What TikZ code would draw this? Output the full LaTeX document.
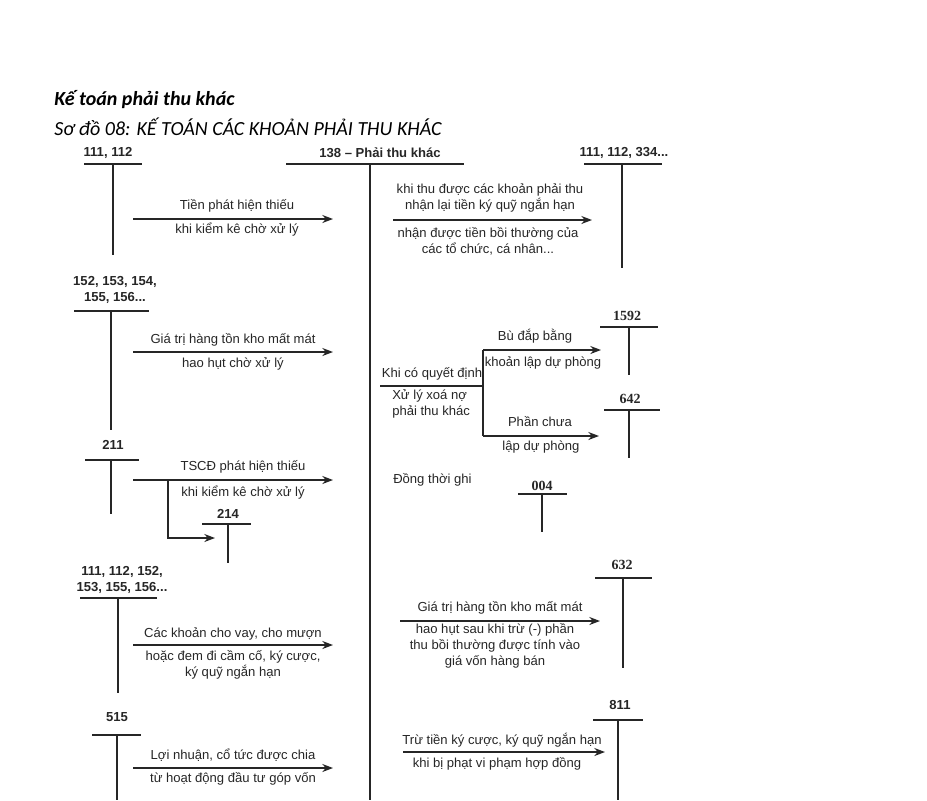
\documentclass[tikz,border=0pt]{standalone}
\usepackage{fontspec}
\setmainfont{Liberation Sans}
\newfontfamily\titlefont{Carlito}
\newfontfamily\numserif{Liberation Serif}
\usetikzlibrary{arrows.meta}
\begin{document}
\begin{tikzpicture}[x=0.75pt,y=-0.75pt,
  tline/.style={line width=1.1pt,black!85},
  flow/.style={line width=1.1pt,black!85,-{Stealth[length=8pt,width=6pt]}},
  lbl/.style={font=\fontsize{9.8}{12}\selectfont,inner sep=0pt,align=center,text=black!85},
  acct/.style={font=\fontsize{9.8}{12}\selectfont\bfseries,inner sep=0pt,align=center,text=black!85},
  sacct/.style={font=\fontsize{10.5}{12}\selectfont\numserif\bfseries,inner sep=0pt,text=black!85}]
\useasboundingbox (0,0) rectangle (927,800);
% titles
\node[anchor=west,inner sep=0pt,font=\fontsize{15}{17}\selectfont\titlefont\bfseries\itshape] (t1) at (54,100) {Kế toán phải thu khác};
\node[anchor=west,inner sep=0pt,font=\fontsize{15}{17}\selectfont\titlefont\itshape] (t2) at (54,127) {Sơ đồ 08: KẾ TOÁN CÁC KHOẢN PHẢI THU KHÁC};

% main account 138
\node[acct] (a138) at (380,153) {138 – Phải thu khác};
\coordinate (h138l) at (286,164); \coordinate (h138r) at (464,164);
\coordinate (v138t) at (370,164); \coordinate (v138b) at (370,800);
\draw[tline] (h138l) -- (h138r);
\draw[tline] (v138t) -- (v138b);

% 111,112
\node[acct] (a111) at (108,153) {111, 112};
\coordinate (h111l) at (84,164); \coordinate (h111r) at (142,164);
\coordinate (v111t) at (113,164); \coordinate (v111b) at (113,255);
\draw[tline] (h111l) -- (h111r); \draw[tline] (v111t) -- (v111b);
\coordinate (f1s) at (133,219); \coordinate (f1e) at (333,219);
\draw[flow] (f1s) -- (f1e);
\node[lbl] (l1a) at (237,206) {Tiền phát hiện thiếu};
\node[lbl] (l1b) at (237,230) {khi kiểm kê chờ xử lý};

% 111,112,334
\node[acct] (a334) at (624,153) {111, 112, 334...};
\coordinate (h334l) at (584,164); \coordinate (h334r) at (662,164);
\coordinate (v334t) at (622,164); \coordinate (v334b) at (622,268);
\draw[tline] (h334l) -- (h334r); \draw[tline] (v334t) -- (v334b);
\coordinate (f2s) at (393,220); \coordinate (f2e) at (592,220);
\draw[flow] (f2s) -- (f2e);
\node[lbl] (l2a) at (490,198) {khi thu được các khoản phải thu\\nhận lại tiền ký quỹ ngắn hạn};
\node[lbl] (l2b) at (488,241) {nhận được tiền bồi thường của\\các tổ chức, cá nhân...};

% 152..156
\node[acct] (a152) at (115,290) {152, 153, 154,\\155, 156...};
\coordinate (h152l) at (74,311); \coordinate (h152r) at (149,311);
\coordinate (v152t) at (111,311); \coordinate (v152b) at (111,430);
\draw[tline] (h152l) -- (h152r); \draw[tline] (v152t) -- (v152b);
\coordinate (f3s) at (133,352); \coordinate (f3e) at (333,352);
\draw[flow] (f3s) -- (f3e);
\node[lbl] (l3a) at (233,340) {Giá trị hàng tồn kho mất mát};
\node[lbl] (l3b) at (233,364) {hao hụt chờ xử lý};

% write-off branch
\node[lbl] (l4a) at (432,374) {Khi có quyết định};
\node[lbl,align=left,anchor=west] (l4b) at (392,404) {Xử lý xoá nợ\\phải thu khác};
\coordinate (b0) at (380,386); \coordinate (b1) at (483,386);
\coordinate (bt) at (483,350); \coordinate (bb) at (483,436);
\coordinate (bte) at (601,350); \coordinate (bbe) at (599,436);
\draw[tline] (b0) -- (b1);
\draw[tline] (bt) -- (bb);
\draw[flow] (bt) -- (bte);
\draw[flow] (bb) -- (bbe);
\node[lbl] (l5a) at (535,336) {Bù đắp bằng};
\node[lbl] (l5b) at (543,363) {khoản lập dự phòng};
\node[lbl] (l6a) at (540,422) {Phần chưa};
\node[lbl] (l6b) at (541,447) {lập dự phòng};

% 1592
\node[sacct] (a1592) at (627,316) {1592};
\coordinate (h1592l) at (600,327); \coordinate (h1592r) at (658,327);
\coordinate (v1592t) at (629,327); \coordinate (v1592b) at (629,375);
\draw[tline] (h1592l) -- (h1592r); \draw[tline] (v1592t) -- (v1592b);
% 642
\node[sacct] (a642) at (630,399) {642};
\coordinate (h642l) at (604,410); \coordinate (h642r) at (660,410);
\coordinate (v642t) at (629,410); \coordinate (v642b) at (629,458);
\draw[tline] (h642l) -- (h642r); \draw[tline] (v642t) -- (v642b);

% 211
\node[acct] (a211) at (113,445) {211};
\coordinate (h211l) at (85,460); \coordinate (h211r) at (139,460);
\coordinate (v211t) at (111,460); \coordinate (v211b) at (111,514);
\draw[tline] (h211l) -- (h211r); \draw[tline] (v211t) -- (v211b);
\coordinate (f7s) at (133,480); \coordinate (f7e) at (333,480);
\draw[flow] (f7s) -- (f7e);
\node[lbl] (l7a) at (243,467) {TSCĐ phát hiện thiếu};
\node[lbl] (l7b) at (243,493) {khi kiểm kê chờ xử lý};
\coordinate (f8s) at (168,480); \coordinate (f8c) at (168,538); \coordinate (f8e) at (215,538);
\draw[flow] (f8s) -- (f8c) -- (f8e);
% 214
\node[acct] (a214) at (228,514) {214};
\coordinate (h214l) at (202,524); \coordinate (h214r) at (251,524);
\coordinate (v214t) at (228,524); \coordinate (v214b) at (228,563);
\draw[tline] (h214l) -- (h214r); \draw[tline] (v214t) -- (v214b);

% 004
\node[lbl,anchor=west] (l9) at (393,480) {Đồng thời ghi};
\node[sacct] (a004) at (542,486) {004};
\coordinate (h004l) at (518,494); \coordinate (h004r) at (567,494);
\coordinate (v004t) at (542,494); \coordinate (v004b) at (542,532);
\draw[tline] (h004l) -- (h004r); \draw[tline] (v004t) -- (v004b);

% 111,112,152,...
\node[acct] (a156) at (122,580) {111, 112, 152,\\153, 155, 156...};
\coordinate (h156l) at (80,598); \coordinate (h156r) at (157,598);
\coordinate (v156t) at (118,598); \coordinate (v156b) at (118,693);
\draw[tline] (h156l) -- (h156r); \draw[tline] (v156t) -- (v156b);
\coordinate (f10s) at (133,645); \coordinate (f10e) at (333,645);
\draw[flow] (f10s) -- (f10e);
\node[lbl] (l10a) at (233,634) {Các khoản cho vay, cho mượn};
\node[lbl] (l10b) at (233,665) {hoặc đem đi cầm cố, ký cược,\\ký quỹ ngắn hạn};

% 632
\node[sacct] (a632) at (622,565) {632};
\coordinate (h632l) at (595,578); \coordinate (h632r) at (652,578);
\coordinate (v632t) at (623,578); \coordinate (v632b) at (623,668);
\draw[tline] (h632l) -- (h632r); \draw[tline] (v632t) -- (v632b);
\coordinate (f11s) at (400,621); \coordinate (f11e) at (600,621);
\draw[flow] (f11s) -- (f11e);
\node[lbl] (l11a) at (500,608) {Giá trị hàng tồn kho mất mát};
\node[lbl] (l11b) at (495,646) {hao hụt sau khi trừ (-) phần\\thu bồi thường được tính vào\\giá vốn hàng bán};

% 515
\node[acct] (a515) at (117,717) {515};
\coordinate (h515l) at (92,735); \coordinate (h515r) at (141,735);
\coordinate (v515t) at (117,735); \coordinate (v515b) at (117,800);
\draw[tline] (h515l) -- (h515r); \draw[tline] (v515t) -- (v515b);
\coordinate (f12s) at (133,768); \coordinate (f12e) at (333,768);
\draw[flow] (f12s) -- (f12e);
\node[lbl] (l12a) at (233,755) {Lợi nhuận, cổ tức được chia};
\node[lbl] (l12b) at (233,779) {từ hoạt động đầu tư góp vốn};

% 811
\node[acct] (a811) at (620,705) {811};
\coordinate (h811l) at (593,720); \coordinate (h811r) at (643,720);
\coordinate (v811t) at (618,720); \coordinate (v811b) at (618,800);
\draw[tline] (h811l) -- (h811r); \draw[tline] (v811t) -- (v811b);
\coordinate (f13s) at (403,752); \coordinate (f13e) at (605,752);
\draw[flow] (f13s) -- (f13e);
\node[lbl] (l13a) at (502,740) {Trừ tiền ký cược, ký quỹ ngắn hạn};
\node[lbl] (l13b) at (497,764) {khi bị phạt vi phạm hợp đồng};
\end{tikzpicture}
\end{document}
